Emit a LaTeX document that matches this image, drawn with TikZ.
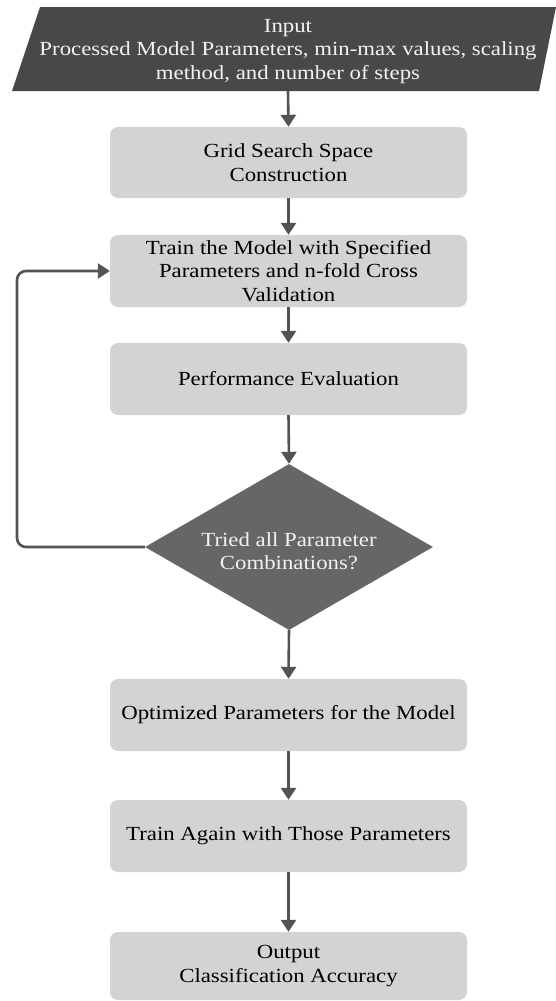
\documentclass[tikz,border=0pt]{standalone}
\usepackage{fontspec}
\setmainfont{Liberation Serif}[FakeStretch=1.14]
\usetikzlibrary{shapes.geometric,arrows.meta}
\definecolor{boxfill}{HTML}{D3D3D3}
\definecolor{darkin}{HTML}{484848}
\definecolor{decfill}{HTML}{666666}
\definecolor{arrcol}{HTML}{535353}
\definecolor{lighttext}{HTML}{F2F2F2}
\tikzset{
  procbox/.style={draw=none, fill=boxfill, rounded corners=8pt, minimum width=357pt, inner sep=0pt, align=center, text=black},
  flowarr/.style={draw=arrcol, line width=2.6pt, -{Triangle[width=15pt,length=12pt]}},
  txt/.style={font=\fontsize{20}{23.5}\selectfont}
}
\begin{document}
\begin{tikzpicture}[x=1pt,y=-1pt]
\useasboundingbox (0,0) rectangle (555,1001);
\fill[white] (0,0) rectangle (555,1001);
% input parallelogram
\fill[darkin] (40,7) -- (556,7) -- (539,91) -- (12,91) -- cycle;
\node[txt, text=lighttext, align=center, inner sep=0pt] (in) at (288,51.5)
  {Input\\Processed Model Parameters, min-max values, scaling\\method, and number of steps};
\coordinate (inbot) at (288,91);
% boxes
\node[procbox, txt, minimum height=71pt] (b1) at (288.5,162.5) {Grid Search Space\\Construction};
\node[procbox, txt, minimum height=72pt] (b2) at (288.5,271) {Train the Model with Specified\\Parameters and n-fold Cross\\Validation};
\node[procbox, txt, minimum height=72pt] (b3) at (288.5,379) {Performance Evaluation};
\node[diamond, fill=decfill, minimum width=288pt, minimum height=166pt, inner sep=0pt] (dec) at (289,547) {};
\node[txt, text=lighttext, align=center, inner sep=0pt] (dect) at (289,551) {Tried all Parameter\\Combinations?};
\node[procbox, txt, minimum height=72pt] (b4) at (288.5,715) {Optimized Parameters for the Model};
\node[procbox, txt, minimum height=72pt] (b5) at (288.5,836) {Train Again with Those Parameters};
\node[procbox, txt, minimum height=68pt] (b6) at (288.5,966) {Output\\Classification Accuracy};
% connectors
\draw[flowarr] (inbot) -- (b1.north);
\draw[flowarr] (b1.south) -- (b2.north);
\draw[flowarr] (b2.south) -- (b3.north);
\draw[flowarr] (b3.south) -- (dec.north);
\draw[flowarr] (dec.south) -- (b4.north);
\draw[flowarr] (b4.south) -- (b5.north);
\draw[flowarr] (b5.south) -- (b6.north);
\draw[flowarr, rounded corners=9pt] (dec.west) -- (17,547) -- (17,271) -- (b2.west);
\end{tikzpicture}
\end{document}
